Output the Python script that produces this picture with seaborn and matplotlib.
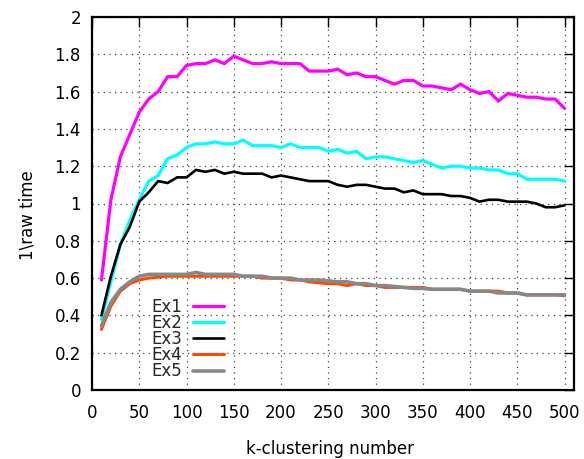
import numpy as np
import pandas as pd
import matplotlib
matplotlib.use("Agg")
import matplotlib.pyplot as plt
import seaborn as sns

# k values (clusters) and the measured 1/raw-time curves
k_values = list(range(10, 510, 10))

ex1 = [0.59, 1.02, 1.25, 1.37, 1.49, 1.56, 1.60, 1.68, 1.68, 1.74,
       1.75, 1.75, 1.77, 1.75, 1.79, 1.77, 1.75, 1.75, 1.76, 1.75,
       1.75, 1.75, 1.71, 1.71, 1.71, 1.72, 1.69, 1.70, 1.68, 1.68,
       1.66, 1.64, 1.66, 1.66, 1.63, 1.63, 1.62, 1.61, 1.64, 1.61,
       1.59, 1.60, 1.55, 1.59, 1.58, 1.57, 1.57, 1.56, 1.56, 1.51]
ex2 = [0.38, 0.58, 0.78, 0.91, 1.02, 1.12, 1.15, 1.24, 1.26, 1.30,
       1.32, 1.32, 1.33, 1.32, 1.32, 1.34, 1.31, 1.31, 1.31, 1.30,
       1.32, 1.30, 1.30, 1.30, 1.28, 1.29, 1.27, 1.28, 1.24, 1.25,
       1.25, 1.24, 1.23, 1.22, 1.23, 1.21, 1.19, 1.20, 1.20, 1.19,
       1.19, 1.18, 1.18, 1.16, 1.16, 1.13, 1.13, 1.13, 1.13, 1.12]
ex3 = [0.40, 0.61, 0.78, 0.875, 1.01, 1.06, 1.12, 1.11, 1.14, 1.14,
       1.18, 1.17, 1.18, 1.16, 1.17, 1.16, 1.16, 1.16, 1.14, 1.15,
       1.14, 1.13, 1.12, 1.12, 1.12, 1.10, 1.09, 1.10, 1.10, 1.09,
       1.08, 1.08, 1.06, 1.07, 1.05, 1.05, 1.05, 1.04, 1.04, 1.03,
       1.01, 1.02, 1.02, 1.01, 1.01, 1.01, 1.00, 0.98, 0.98, 0.99]
ex4 = [0.325, 0.45, 0.53, 0.57, 0.59, 0.60, 0.605, 0.61, 0.61, 0.61,
       0.61, 0.61, 0.61, 0.61, 0.61, 0.61, 0.61, 0.60, 0.60, 0.60,
       0.59, 0.59, 0.58, 0.575, 0.57, 0.57, 0.56, 0.57, 0.56, 0.56,
       0.55, 0.55, 0.55, 0.55, 0.55, 0.54, 0.54, 0.54, 0.54, 0.53,
       0.53, 0.53, 0.53, 0.52, 0.52, 0.51, 0.51, 0.51, 0.51, 0.505]
ex5 = [0.345, 0.47, 0.54, 0.58, 0.61, 0.62, 0.62, 0.62, 0.62, 0.62,
       0.63, 0.62, 0.62, 0.62, 0.62, 0.61, 0.61, 0.61, 0.60, 0.60,
       0.60, 0.59, 0.59, 0.59, 0.585, 0.58, 0.58, 0.57, 0.57, 0.56,
       0.56, 0.555, 0.55, 0.545, 0.545, 0.54, 0.54, 0.54, 0.54, 0.53,
       0.53, 0.53, 0.52, 0.52, 0.52, 0.51, 0.51, 0.51, 0.51, 0.51]

series_names = ["Ex1", "Ex2", "Ex3", "Ex4", "Ex5"]
series_values = [ex1, ex2, ex3, ex4, ex5]
colors = ["#ff00ff", "#00ffff", "#000000", "#ff4a00", "#888888"]
widths = [2.3, 2.3, 1.9, 2.2, 2.6]

x_ticks = list(range(0, 501, 50))
y_ticks = [0, 0.2, 0.4, 0.6, 0.8, 1.0, 1.2, 1.4, 1.6, 1.8, 2.0]
y_tick_labels = ["0", "0.2", "0.4", "0.6", "0.8", "1", "1.2", "1.4", "1.6", "1.8", "2"]

df = pd.concat(
    [pd.DataFrame({"k": k_values, "value": vals, "series": name})
     for name, vals in zip(series_names, series_values)],
    ignore_index=True,
)

sns.set_theme(style="white")
plt.rcParams["font.family"] = ["DejaVu Sans"]

fig = plt.figure(figsize=(5.84, 4.59), dpi=100)
ax = fig.add_axes([92 / 584, 69 / 459, 482 / 584, 373 / 459])

for name, color, lw in zip(series_names, colors, widths):
    sns.lineplot(data=df[df["series"] == name], x="k", y="value",
                 color=color, linewidth=lw, label=name, ax=ax,
                 solid_joinstyle="miter")

ax.set_xlim(0, 510)
ax.set_ylim(0, 2)
ax.set_xticks(x_ticks)
ax.set_yticks(y_ticks)
ax.set_yticklabels(y_tick_labels)

ax.grid(True, color="#444444", linestyle=(0, (1, 3.5)), linewidth=0.9)
for spine in ax.spines.values():
    spine.set_visible(True)
    spine.set_color("black")
    spine.set_linewidth(1.6)

ax.tick_params(axis="both", which="major", direction="in", length=7,
               width=1.0, color="black", top=True, right=True,
               labelsize=12, labelcolor="black")
ax.tick_params(axis="x", pad=10)
ax.tick_params(axis="y", pad=8)

ax.set_xlabel("k-clustering number", fontsize=12, color="black")
ax.set_ylabel("1\\raw time", fontsize=12, color="black")
ax.xaxis.set_label_coords(0.494, -0.135)
ax.yaxis.set_label_coords(-0.115, 0.47)

# legend: text on the left, sample line on the right, tightly stacked rows
leg = ax.legend(loc="lower left", bbox_to_anchor=(0.11, 0.008),
                frameon=False, markerfirst=False, fontsize=12,
                handlelength=1.9, handletextpad=0.6, labelspacing=-0.11,
                borderaxespad=0.0)
for txt in leg.get_texts():
    txt.set_ha("right")

fig.savefig("out.png", dpi=100, facecolor="white")
